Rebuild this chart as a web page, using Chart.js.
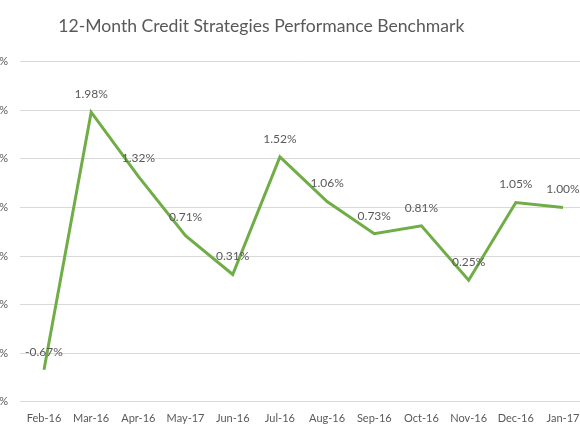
<!DOCTYPE html>
<html>
<head>
<meta charset="utf-8">
<script src="https://cdn.jsdelivr.net/npm/chart.js@4/dist/chart.umd.min.js"></script>
<style>
  html, body { margin: 0; padding: 0; background: #fff; overflow: hidden; }
  body { width: 580px; height: 435px; position: relative; }
  #wrap { position: absolute; left: -64px; top: 0; width: 666px; height: 435px; }
</style>
</head>
<body>
<div id="wrap"><canvas id="perfChart"></canvas></div>
<script>
  const months = ['Feb-16', 'Mar-16', 'Apr-16', 'May-17', 'Jun-16', 'Jul-16',
    'Aug-16', 'Sep-16', 'Oct-16', 'Nov-16', 'Dec-16', 'Jan-17'];
  const returns = [-0.67, 1.98, 1.32, 0.71, 0.31, 1.52, 1.06, 0.73, 0.81, 0.25, 1.05, 1.00];
  const yTicks = [-1.0, -0.5, 0.0, 0.5, 1.0, 1.5, 2.0, 2.5];

  const textGray = '#595959';
  const fontFamily = 'Lato, "Open Sans", sans-serif';

  // value labels above each point (no datalabels plugin available offline)
  const valueLabels = {
    id: 'valueLabels',
    afterDatasetsDraw(chart) {
      const ctx = chart.ctx;
      const meta = chart.getDatasetMeta(0);
      ctx.save();
      ctx.font = '12px ' + fontFamily;
      ctx.fillStyle = textGray;
      ctx.textAlign = 'center';
      ctx.textBaseline = 'middle';
      meta.data.forEach((pt, i) => {
        ctx.fillText(returns[i].toFixed(2) + '%', pt.x, pt.y - 18);
      });
      ctx.restore();
    },
  };

  const ctx = document.getElementById('perfChart').getContext('2d');
  new Chart(ctx, {
    type: 'line',
    data: {
      labels: months,
      datasets: [
        {
          label: 'Benchmark',
          data: returns,
          borderColor: '#70ad47',
          backgroundColor: '#70ad47',
          borderWidth: 3,
          tension: 0,
          pointRadius: 0,
          fill: false,
        },
      ],
    },
    options: {
      responsive: true,
      maintainAspectRatio: false,
      animation: false,
      layout: { padding: { left: 0, right: 15.4, top: 15.5, bottom: 0 } },
      plugins: {
        legend: { display: false },
        tooltip: { enabled: false },
        title: {
          display: true,
          text: '12-Month Credit Strategies Performance Benchmark',
          color: textGray,
          font: { family: fontFamily, size: 17.6, weight: 'normal' },
          padding: { top: 0, bottom: 25 },
        },
      },
      scales: {
        x: {
          offset: true,
          grid: { display: false, drawTicks: false },
          border: { display: false },
          ticks: {
            color: textGray,
            font: { family: fontFamily, size: 11 },
            padding: 10,
            maxRotation: 0,
            autoSkip: false,
          },
        },
        y: {
          min: yTicks[0],
          max: yTicks[yTicks.length - 1],
          afterBuildTicks: (scale) => {
            scale.ticks = yTicks.map((v) => ({ value: v }));
          },
          afterFit: (scale) => {
            scale.width = 84.4;
          },
          grid: { color: '#d9d9d9', lineWidth: 1, drawTicks: false },
          border: { display: false },
          ticks: {
            color: textGray,
            font: { family: fontFamily, size: 11 },
            padding: 12.4,
            callback: (v) => Number(v).toFixed(2) + '%',
          },
        },
      },
    },
    plugins: [valueLabels],
  });
</script>
</body>
</html>
